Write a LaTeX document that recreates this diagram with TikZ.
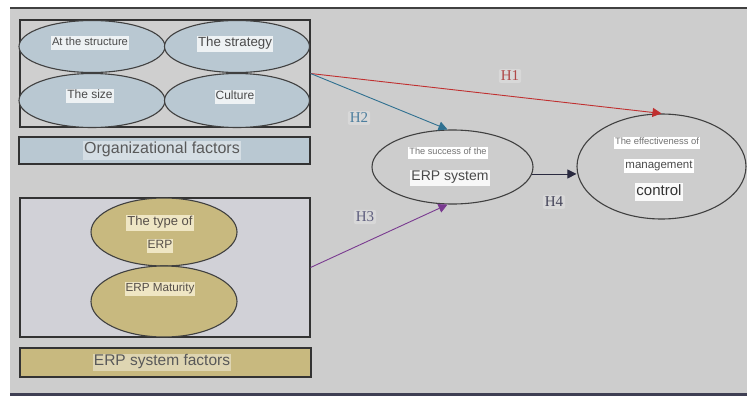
\documentclass[tikz,border=0pt]{standalone}
\usepackage{fontspec}
\setmainfont{Liberation Sans}
\newfontfamily\hfont{Liberation Serif}
\usetikzlibrary{shapes.geometric,arrows.meta}
\definecolor{bg}{HTML}{CDCDCD}
\definecolor{boxtwo}{HTML}{D1D1D7}
\definecolor{bluef}{HTML}{B9C8D2}
\definecolor{tanf}{HTML}{C8B97F}
\definecolor{txt}{HTML}{4A4A4A}
\definecolor{glowb}{HTML}{EEF2F4}
\definecolor{glowt}{HTML}{EFE6C4}
\definecolor{glowh}{HTML}{D8D8D8}
\definecolor{hone}{HTML}{B04848}
\definecolor{htwo}{HTML}{4C7E9E}
\definecolor{hthree}{HTML}{5E5E7E}
\definecolor{hfour}{HTML}{45455A}
\definecolor{aone}{HTML}{C03030}
\definecolor{atwo}{HTML}{2F7090}
\definecolor{athree}{HTML}{7A3A90}
\definecolor{afour}{HTML}{2A2A40}
\newcommand{\glw}[2]{{\setlength{\fboxsep}{1pt}\colorbox{#1}{\strut #2}}}
\newcommand{\fsz}[1]{\fontsize{#1}{#1}\selectfont}
\begin{document}
\begin{tikzpicture}[x=1pt,y=-1pt,
  frame/.style={draw=black!80, line width=1.1pt, minimum width=#1, inner sep=0pt},
  ell/.style={ellipse, draw=black!75, line width=1.1pt, inner sep=0pt},
  lbl/.style={inner sep=0pt, text=txt},
  hyp/.style={inner sep=2pt, fill=glowh, rounded corners=2pt, font=\hfont\fsz{15}},
  arr/.style={line width=0.9pt, -{Triangle[width=9pt,length=9pt]}}]
\useasboundingbox (0,0) rectangle (747,396);
\fill[white] (0,0) rectangle (747,396);
\fill[bg] (10,8) rectangle (747,393);
\fill[black!75] (10,6.8) rectangle (747,8.6);
\fill[afour!90] (10,392.5) rectangle (747,396);

% left boxes
\node[frame=290pt, minimum height=107pt, fill=bg!95!white] (orgbox) at (165,73.5) {};
\node[frame=291pt, minimum height=27pt, fill=bluef] (orglabel) at (164.5,150.5) {};
\node[frame=290pt, minimum height=139pt, fill=boxtwo] (erpbox) at (165,267.5) {};
\node[frame=291pt, minimum height=29pt, fill=tanf] (erplabel) at (165.5,362.5) {};

% ellipses
\node[ell, fill=bluef, minimum width=146pt, minimum height=52pt] (e1) at (92,46.5) {};
\node[ell, fill=bluef, minimum width=145pt, minimum height=52pt] (e2) at (237,46.5) {};
\node[ell, fill=bluef, minimum width=146pt, minimum height=54pt] (e3) at (92,100.5) {};
\node[ell, fill=bluef, minimum width=145pt, minimum height=54pt] (e4) at (237,100.5) {};
\node[ell, fill=tanf, minimum width=146pt, minimum height=68pt] (t1) at (164,232) {};
\node[ell, fill=tanf, minimum width=146pt, minimum height=71pt] (t2) at (164,301.5) {};
\node[ell, fill=bg, minimum width=161pt, minimum height=74pt] (succ) at (452.5,167) {};
\node[ell, fill=bg, minimum width=169pt, minimum height=105pt] (eff) at (661.5,166.5) {};

% texts
\node[lbl] (e1t) at (90,43) {\fsz{11.2}\glw{glowb}{At the structure}};
\node[lbl] (e2t) at (235,44) {\fsz{13.3}\glw{glowb}{The strategy}};
\node[lbl] (e3t) at (90,96) {\fsz{12}\glw{glowb}{The size}};
\node[lbl] (e4t) at (235,97) {\fsz{12}\glw{glowb}{Culture}};
\node[lbl, text=txt!90!brown] (t1a) at (160,223) {\fsz{13}\glw{glowt}{The type of}};
\node[lbl, text=txt!90!brown] (t1b) at (160,246) {\fsz{12}\glw{glowt}{ERP}};
\node[lbl, text=txt!90!brown] (t2t) at (160,289) {\fsz{11.7}\glw{glowt}{ERP Maturity}};
\node[lbl, text=black!55] (s1) at (448,153) {\fsz{9.2}\glw{white}{The success of the}};
\node[lbl] (s2) at (450,178) {\fsz{14}\glw{white!85!bg}{ERP system}};
\node[lbl, text=black!55] (f1) at (657,143) {\fsz{9.4}\glw{white}{The effectiveness of}};
\node[lbl] (f2) at (659,166) {\fsz{11.5}\glw{white}{management}};
\node[lbl, text=black!80] (f3) at (659,192) {\fsz{15}\glw{white!90!bg}{control}};
\node[lbl, text=black!65] (orgt) at (162,150.5) {\fsz{16}\glw{bluef!60!white}{Organizational factors}};
\node[lbl, text=black!65] (erpt) at (162,362.5) {\fsz{15.5}\glw{tanf!60!white}{ERP system factors}};

% arrows
\draw[arr, aone] (orgbox.east) -- (eff.north);
\draw[arr, atwo] (orgbox.east) -- ([xshift=-5pt]succ.north);
\draw[arr, athree] (erpbox.east) -- ([xshift=-5pt]succ.south);
\draw[arr, afour] (succ.-5) -- (succ.-5 -| eff.west);

% hypothesis labels
\node[hyp, text=hone] (h1) at (510,76) {H1};
\node[hyp, text=htwo] (h2) at (359,118) {H2};
\node[hyp, text=hthree] (h3) at (365,217) {H3};
\node[hyp, text=hfour] (h4) at (554,202) {H4};
\end{tikzpicture}
\end{document}
